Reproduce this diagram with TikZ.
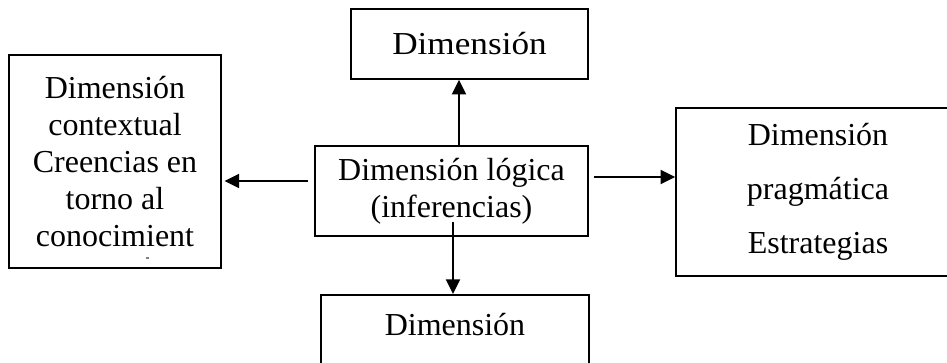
\documentclass[tikz,border=0pt]{standalone}
\usepackage{fontspec}
\setmainfont{Liberation Serif}
\usetikzlibrary{arrows.meta}
\tikzset{
  caja/.style={draw, line width=1.2pt, inner sep=0pt, align=center,
    font=\fontsize{24pt}{27.75pt}\selectfont},
  flecha/.style={line width=1.5pt, -{Triangle[length=11pt,width=10.5pt]}}
}
\begin{document}
\begin{tikzpicture}[x=0.75pt,y=-0.75pt]
\useasboundingbox (0,0) rectangle (947,363);
% cajas
\node[caja, minimum width=177.75pt, minimum height=52.5pt] (arriba) at (469.5,44) {\scalebox{1.1}[1]{Dimensión}};
\node[caja, minimum width=159pt, minimum height=159.75pt] (contextual) at (115,161.5)
  {Dimensión\\contextual\\Creencias en\\torno al\\conocimient};
\node[caja, minimum width=204.75pt, minimum height=67.5pt] (logica) at (451.5,191)
  {Dimensión lógica\\(inferencias)};
\node[caja, minimum width=213pt, minimum height=126pt,
  font=\fontsize{24pt}{40.5pt}\selectfont] (pragmatica) at (818,192)
  {Dimensión\\pragmática\\Estrategias};
\node[caja, anchor=north, minimum width=201pt, text height=30.75pt, text depth=29.25pt] (abajo) at (455,294) {Dimensión};
\draw [line width=0.8pt, gray] (146,258) -- (149,258);
% flechas
\coordinate (sube) at (459,146);
\coordinate (baja) at (453,222);
\coordinate (izq) at (308,181);
\coordinate (der) at (594,177);
\draw [flecha] (sube) -- (sube |- arriba.south);
\draw [flecha] (baja) -- (baja |- abajo.north);
\draw [flecha, shorten >=2pt] (izq) -- (izq -| contextual.east);
\draw [flecha] (der) -- (der -| pragmatica.west);
\end{tikzpicture}
\end{document}
